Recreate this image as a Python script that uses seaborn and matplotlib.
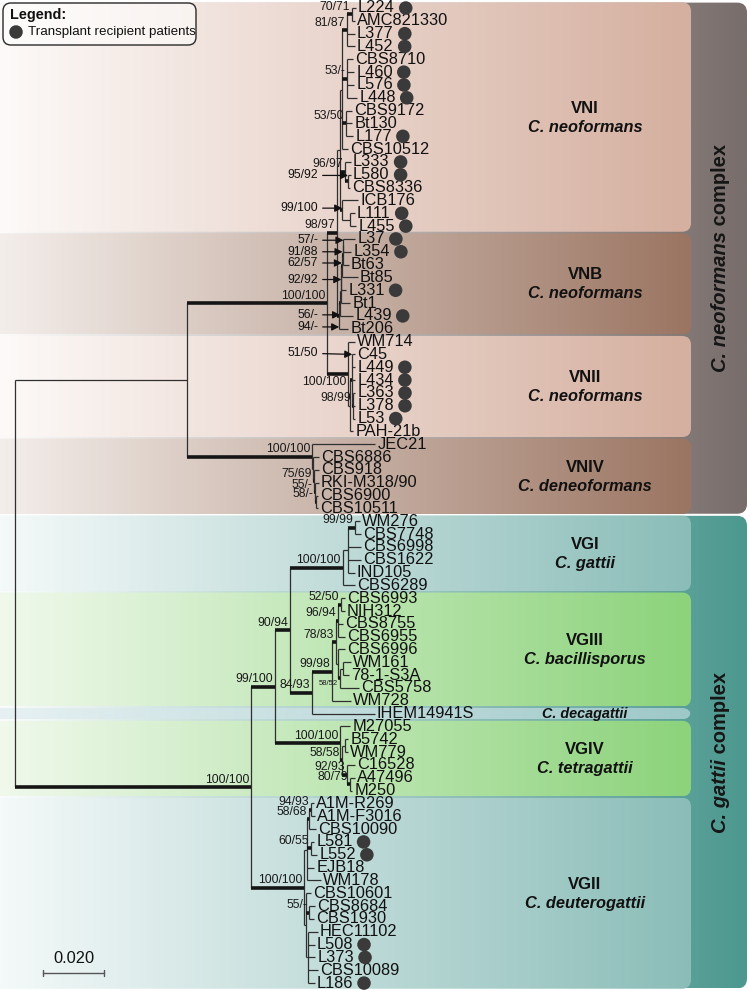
import matplotlib
matplotlib.use("Agg")
import numpy as np
import pandas as pd
import matplotlib.pyplot as plt
import seaborn as sns
from matplotlib.patches import FancyBboxPatch
from matplotlib.colors import LinearSegmentedColormap
from matplotlib.collections import LineCollection

# ---- data: branch lengths in units of 0.001 substitutions/site ----
# internal node labels = bootstrap support
# ">" label drawn with an arrow, "_" label drawn under the branch
VNI = ("((((L224:1.3,AMC821330:1.0)70/71:1.6,L377:2.6,L452:2.6)81/87:1.6,"
       "(CBS8710:2.0,L460:2.3,L576:2.3,L448:3.3)53/-:1.6,"
       "(CBS9172:2.0,Bt130:2.0,L177:2.3)53/50:1.3,CBS10512:2.0):0.7,"
       "(L333:2.0,(L580:1.0,CBS8336:0.7)>95/92:1.0)96/97:1.6,"
       "(ICB176:5.2,(L111:1.6,L455:2.0):2.6)>99/100:0.7)")
VNB = ("(((((((L37:3.9,L354:2.6)>57/-:0.3,Bt63:2.0)>91/88:0.2,Bt85:5.1)>62/57:0.2,"
       "L331:1.6)>92/92:0.2,Bt1:3.1):0.2,L439:4.3)>56/-:0.3,Bt206:3.0)")
VNII = ("(WM714:2.3,((C45:1.0,L449:1.0,L434:1.0,(L363:0.7,L378:0.7,L53:0.7)98/99:0.3)"
        ">51/50:0.7,PAH-21b:1.0):0.7)")
VNIV = ("(JEC21:20.7,(CBS6886:2.0,(CBS918:1.7,(RKI-M318/90:1.3,"
        "(CBS6900:0.7,CBS10511:0.7)58/-:0.3)55/-:0.3)75/69:0.3):0.3)")
VGI = "(((WM276:1.6,CBS7748:2.0)99/99:2.3,CBS6998:4.3,CBS1622:4.3,IND105:2.3):1.6,CBS6289:3.9)"
VGIII = ("((((CBS6993:1.3,NIH312:1.3)52/50:1.0,CBS8755:1.6,CBS6955:2.3)96/94:0.7,"
         "(CBS6996:2.3,((WM161:2.6,78-1-S3A:2.0):1.0,CBS5758:6.2)_58/52:0.7):0.7)78/83:1.3,"
         "WM728:6.2)")
VGIV = ("(M27055:3.3,((B5742:1.0,WM779:1.0):1.0,(C16528:2.6,(A47496:1.6,M250:0.7)80/79:1.0)"
        "92/93:1.6)58/58:0.7)")
VGII = ("((((A1M-R269:0.7,A1M-F3016:1.3)94/93:0.7,CBS10090:2.3)58/68:0.7,"
        "(L581:1.0,L552:2.0)60/55:1.3,EJB18:2.3,WM178:4.6):1.0,"
        "(CBS10601:1.6,(CBS8684:2.0,CBS1930:1.6)55/-:1.0,"
        "(HEC11102:3.0,L508:2.0,L373:2.3,CBS10089:3.3,L186:2.0):0.7):0.7)")

G4 = "(" + VGIII + "99/98:6.5,IHEM14941S:20.6)"
G3 = "(" + VGI + "100/100:17.3," + G4 + "84/93:7.2)"
G2 = "(" + G3 + "90/94:5.0," + VGIV + "100/100:21.4)"
G1 = "(" + G2 + "99/100:7.8," + VGII + "100/100:17.4)"
T = "(" + VNI + ":1.0," + VNB + ">94/-:0.7)"
N2 = "(" + T + "98/97:3.3," + VNII + "_100/100:6.9)"
N1 = "(" + N2 + "100/100:45.9," + VNIV + "100/100:41.0)"
TREE = "(" + N1 + ":56.4," + G1 + "100/100:77.4);"

PATIENTS = ["L224", "L377", "L452", "L460", "L576", "L448", "L177", "L333", "L580",
            "L111", "L455", "L37", "L354", "L331", "L439", "L449", "L434", "L363",
            "L378", "L53", "L581", "L552", "L508", "L373", "L186"]

CLADE_NAMES = ["VNI", "VNB", "VNII", "VNIV", "VGI", "VGIII", "", "VGIV", "VGII"]
CLADE_SPECIES = ["C. neoformans", "C. neoformans", "C. neoformans", "C. deneoformans",
                 "C. gattii", "C. bacillisporus", "C. decagattii", "C. tetragattii",
                 "C. deuterogattii"]
CLADE_FIRST = ["L224", "L37", "WM714", "JEC21", "WM276", "CBS6993", "IHEM14941S", "M27055", "A1M-R269"]
CLADE_LAST = ["L455", "Bt206", "PAH-21b", "CBS10511", "CBS6289", "WM728", "IHEM14941S", "M250", "L186"]
CLADE_COLORS = [("#fefcfb", "#d5af9f"), ("#f6f1ee", "#9b7562"), ("#fefcfb", "#d5af9f"),
                ("#f6f1ee", "#9b7562"), ("#f7fbfb", "#8bbdb8"), ("#f3faef", "#8cd37b"),
                ("#e9f2f4", "#9ec8c8"), ("#f3faef", "#8cd37b"), ("#f7fbfb", "#8bbdb8")]

COMPLEX_ITALIC = ["C. neoformans", "C. gattii"]
COMPLEX_FIRST = ["L224", "WM276"]
COMPLEX_LAST = ["CBS10511", "L186"]
COMPLEX_COLORS = [("#ffffff", "#786d6a"), ("#ffffff", "#4c988f")]

SCALE_LEN = 0.02

# vertical nudge of arrowed support labels, in leaf rows
ARROW_SHIFT = {"57/-": -0.4, "91/88": -0.25, "62/57": -0.25, "92/92": 0.1,
               "56/-": 0.9, "94/-": 0.85, "95/92": -0.45, "99/100": -0.15, "51/50": -2.1}


def parse(s):
    pos = 0

    def node():
        nonlocal pos
        kids = []
        if s[pos] == "(":
            pos += 1
            kids.append(node())
            while s[pos] == ",":
                pos += 1
                kids.append(node())
            pos += 1
        start = pos
        while s[pos] not in ",():;":
            pos += 1
        name = s[start:pos]
        length = 0.0
        if s[pos] == ":":
            pos += 1
            start = pos
            while s[pos] not in ",();":
                pos += 1
            length = float(s[start:pos])
        return {"name": name, "len": length * 1e-3, "kids": kids}

    return node()


root = parse(TREE)
leaves = []


def layout(n, x0):
    n["x"] = x0 + n["len"]
    if not n["kids"]:
        n["y"] = len(leaves)
        leaves.append(n)
    else:
        for k in n["kids"]:
            layout(k, n["x"])
        n["y"] = (n["kids"][0]["y"] + n["kids"][-1]["y"]) / 2


layout(root, 0.0)
leaf_y = {n["name"]: n["y"] for n in leaves}

# ---- figure geometry (pixel helpers for decorations) ----
PXX = 3050.0
STEP = 12.83


def px2x(px):
    return (px - 15) / PXX


def px2y(py):
    return (py - 8) / STEP


sns.set_theme(style="white")
plt.rcParams["font.family"] = ["Liberation Sans", "DejaVu Sans"]

fig = plt.figure(figsize=(7.5, 9.91), dpi=100)
ax = fig.add_axes([0, 0, 1, 1])
ax.set_axis_off()


def grad_box(x0, x1, y0, y1, colors, r=9, z=0):
    patch = FancyBboxPatch((x0, y0), x1 - x0, y1 - y0,
                           boxstyle=f"round,pad=0,rounding_size={r / PXX}",
                           mutation_aspect=PXX / STEP, facecolor="none",
                           edgecolor="none", zorder=z)
    ax.add_patch(patch)
    cmap = LinearSegmentedColormap.from_list("g", list(colors))
    grad = np.linspace(0, 1, 256)[None, :]
    im = ax.imshow(grad, cmap=cmap, extent=(x0, x1, y1, y0), aspect="auto",
                   zorder=z, interpolation="bilinear")
    im.set_clip_path(patch)


# complex backgrounds
for first, last, cols in zip(COMPLEX_FIRST, COMPLEX_LAST, COMPLEX_COLORS):
    grad_box(px2x(-20), px2x(747), leaf_y[first] - 0.5 + 0.08,
             leaf_y[last] + 0.5 - 0.08, cols, r=10, z=0)
# clade boxes
for first, last, cols in zip(CLADE_FIRST, CLADE_LAST, CLADE_COLORS):
    grad_box(px2x(-20), px2x(691), leaf_y[first] - 0.5 + 0.06,
             leaf_y[last] + 0.5 - 0.06, cols, r=9, z=1)

# ---- tree branches ----
thin, thick = [], []


def collect(n):
    if n["kids"]:
        thin.append([(n["x"], n["kids"][0]["y"]), (n["x"], n["kids"][-1]["y"])])
        for k in n["kids"]:
            seg = [(n["x"], k["y"]), (k["x"], k["y"])]
            if k["kids"] and k["name"]:
                thick.append(seg)
            else:
                thin.append(seg)
            collect(k)


collect(root)
ax.add_collection(LineCollection(thin, colors="#2f2f2f", linewidths=0.9, zorder=3))
ax.add_collection(LineCollection(thick, colors="#151515", linewidths=2.6, zorder=3,
                                 capstyle="butt"))


def labels(n):
    for k in n["kids"]:
        labels(k)
    if n["kids"] and n["name"]:
        lab = n["name"]
        if lab.startswith(">"):
            lab = lab[1:]
            ly = n["y"] + ARROW_SHIFT.get(lab, 0.0)
            ty = min(max(ly, n["kids"][0]["y"]), n["kids"][-1]["y"])
            ax.annotate(lab, xy=(n["x"], ty), xytext=(px2x(318), ly),
                        ha="right", va="center", fontsize=8.8, color="#111", zorder=6,
                        arrowprops=dict(arrowstyle="-|>", color="#111", lw=0.9,
                                        shrinkA=1, shrinkB=0, mutation_scale=11))
        elif lab.startswith("_"):
            lab = lab[1:]
            fs = 5.5 if lab == "58/52" else 8.8
            ax.text(n["x"] - 2 / PXX, n["y"] + 2 / STEP, lab, ha="right",
                    va="top", fontsize=fs, color="#1a1a1a", zorder=6)
        else:
            ax.text(n["x"] - 2 / PXX, n["y"] - 1.5 / STEP, lab, ha="right",
                    va="bottom", fontsize=8.8, color="#1a1a1a", zorder=6)


labels(root)

leaf_texts = {}
for n in leaves:
    leaf_texts[n["name"]] = ax.text(n["x"] + 2 / PXX, n["y"], n["name"], ha="left",
                                    va="center", fontsize=11.8, color="#111", zorder=5)

# clade names
for name, sp, first, last in zip(CLADE_NAMES, CLADE_SPECIES, CLADE_FIRST, CLADE_LAST):
    cy = (leaf_y[first] + leaf_y[last]) / 2
    if name:
        ax.text(px2x(585), cy - 9 / STEP, name, ha="center", va="center",
                fontsize=12, fontweight="bold", color="#111", zorder=5)
        ax.text(px2x(585), cy + 10 / STEP, sp, ha="center", va="center",
                fontsize=11.8, fontweight="bold", fontstyle="italic", color="#111", zorder=5)
    else:
        ax.text(px2x(585), cy, sp, ha="center", va="center", fontsize=10.4,
                fontweight="bold", fontstyle="italic", color="#111", zorder=5)

# complex labels (mixed italic / upright)
cplx = []
for it, first, last in zip(COMPLEX_ITALIC, COMPLEX_FIRST, COMPLEX_LAST):
    cy = (leaf_y[first] + leaf_y[last]) / 2
    kw = dict(rotation=90, rotation_mode="anchor", ha="left", va="center",
              fontsize=14.5, fontweight="bold", color="#161616", zorder=5)
    t1 = ax.text(px2x(721), cy, it, fontstyle="italic", **kw)
    t2 = ax.text(px2x(721), cy, " complex", **kw)
    cplx.append((cy, t1, t2))

ax.set_xlim(px2x(0), px2x(750))
ax.set_ylim(px2y(991), px2y(0))
fig.canvas.draw()
rend = fig.canvas.get_renderer()
for cy, t1, t2 in cplx:
    h1 = t1.get_window_extent(rend).height
    h2 = t2.get_window_extent(rend).height
    start = cy + (h1 + h2) / 2 / STEP
    t1.set_position((px2x(721), start))
    t2.set_position((px2x(721), start - h1 / STEP))

# patient dots placed after each label
inv = ax.transData.inverted()
dot_x, dot_y = [], []
for name in PATIENTS:
    bb = leaf_texts[name].get_window_extent(rend)
    dot_x.append(inv.transform((bb.x1, 0))[0] + 11 / PXX)
    dot_y.append(leaf_y[name])
dots = pd.DataFrame({"x": dot_x, "y": dot_y})
sns.scatterplot(data=dots, x="x", y="y", s=95, color="#3a3a3a", edgecolor="none",
                legend=False, ax=ax, zorder=6)

# legend box
leg = FancyBboxPatch((px2x(3), px2y(3)), px2x(196) - px2x(3), px2y(45) - px2y(3),
                     boxstyle=f"round,pad=0,rounding_size={8 / PXX}",
                     mutation_aspect=PXX / STEP, facecolor="white", alpha=0.55,
                     edgecolor="none", zorder=7)
ax.add_patch(leg)
leg_edge = FancyBboxPatch((px2x(3), px2y(3)), px2x(196) - px2x(3), px2y(45) - px2y(3),
                          boxstyle=f"round,pad=0,rounding_size={8 / PXX}",
                          mutation_aspect=PXX / STEP, facecolor="none",
                          edgecolor="#2a2a2a", lw=1.0, zorder=8)
ax.add_patch(leg_edge)
ax.text(px2x(10), px2y(15), "Legend:", fontsize=10.4, fontweight="bold",
        ha="left", va="center", color="#111", zorder=9)
sns.scatterplot(x=[px2x(16)], y=[px2y(32)], s=95, color="#3a3a3a", edgecolor="none",
                legend=False, ax=ax, zorder=9)
ax.text(px2x(28), px2y(32), "Transplant recipient patients", fontsize=9.6,
        ha="left", va="center", color="#111", zorder=9)

# scale bar
sx0 = px2x(43)
sy = px2y(973)
ax.plot([sx0, sx0 + SCALE_LEN], [sy, sy], color="#555", lw=1.0, zorder=5)
for xx in (sx0, sx0 + SCALE_LEN):
    ax.plot([xx, xx], [sy - 3 / STEP, sy + 3 / STEP], color="#555", lw=1.0, zorder=5)
ax.text(sx0 + SCALE_LEN / 2, sy - 14 / STEP, f"{SCALE_LEN:.3f}", ha="center",
        va="center", fontsize=11.8, color="#111", zorder=5)

ax.set_xlim(px2x(0), px2x(750))
ax.set_ylim(px2y(991), px2y(0))
ax.set_axis_off()
fig.savefig("out.png", dpi=100)
